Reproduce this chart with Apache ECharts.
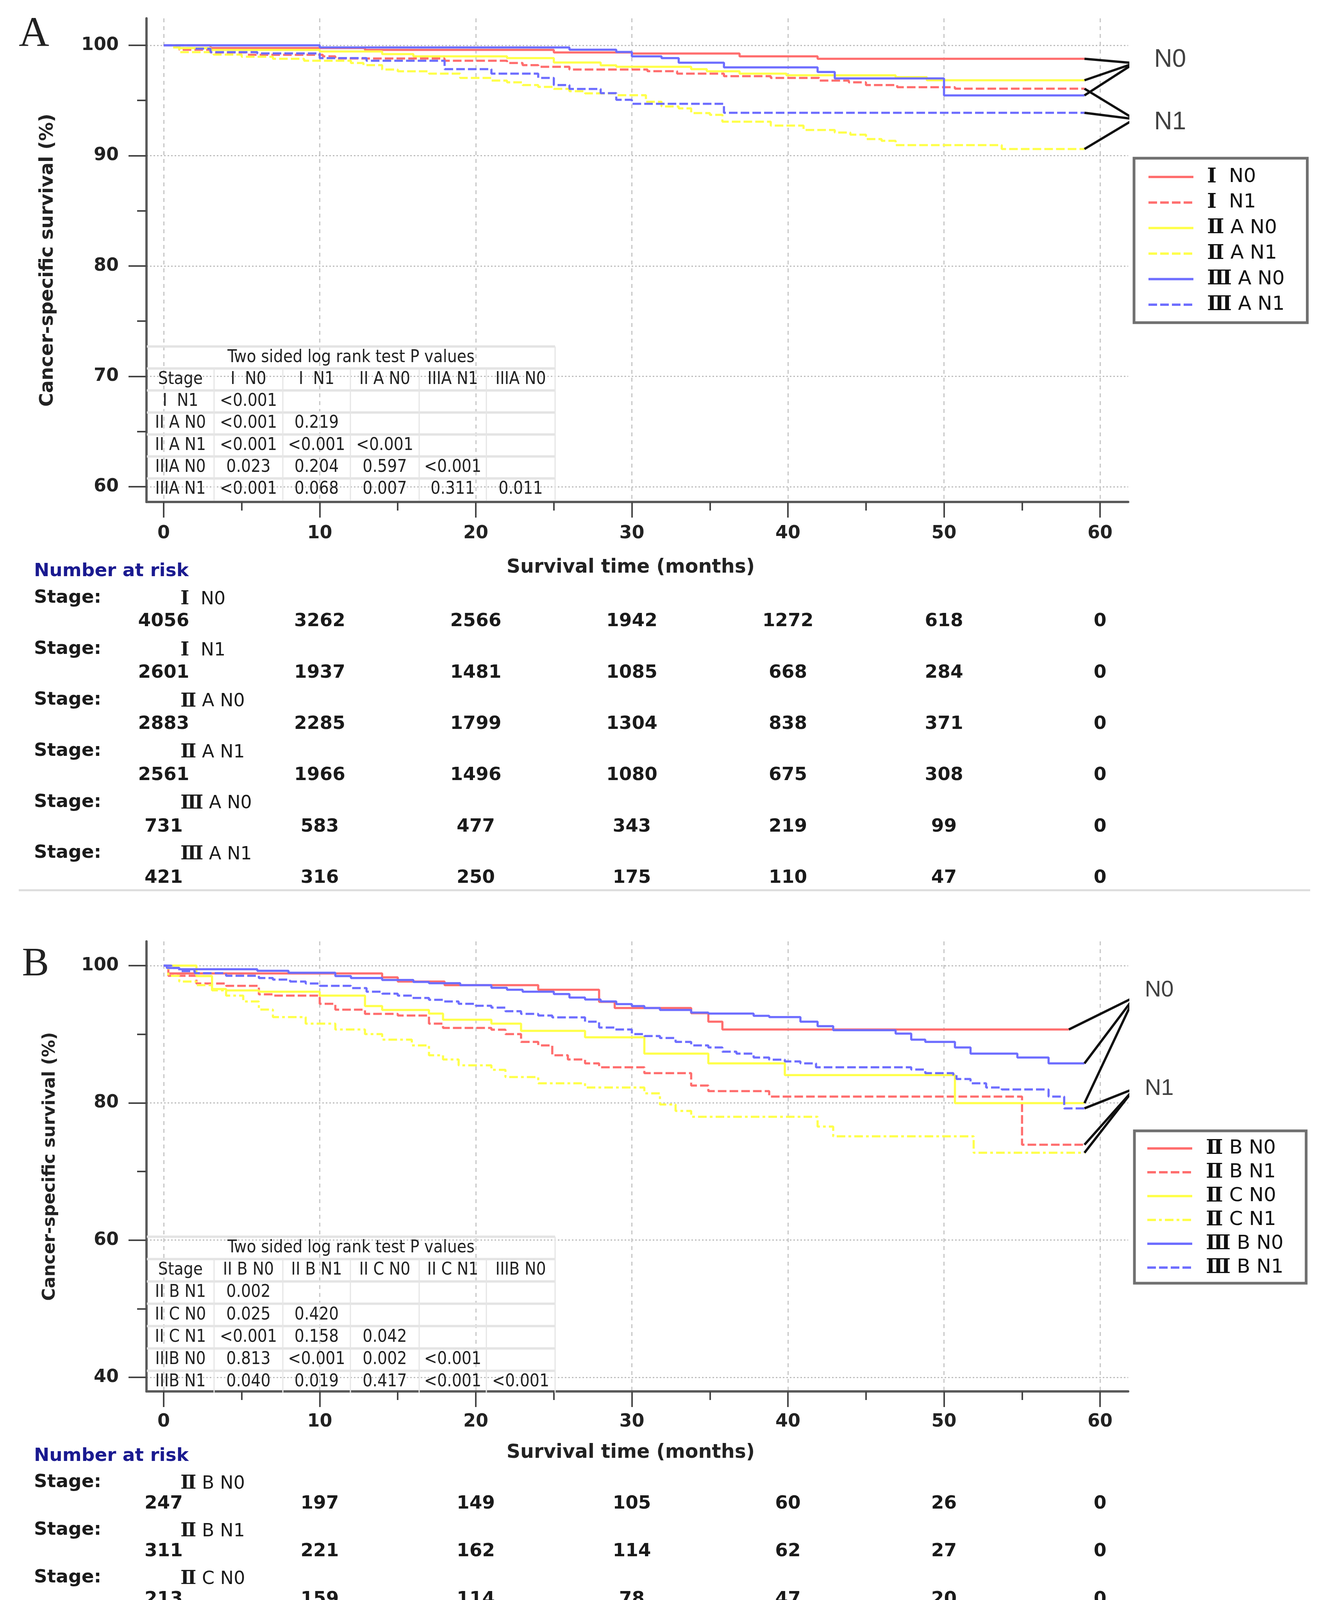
<!DOCTYPE html>
<html><head><meta charset="utf-8">
<script src="https://cdn.jsdelivr.net/npm/echarts/dist/echarts.min.js"></script>
<style>html,body{margin:0;padding:0;background:#fff;}#c{width:3397px;height:4533px;}</style>
</head><body><div id="c"></div>
<script>
// ---------- tick values ----------
const MONTH_TICKS = [0, 10, 20, 30, 40, 50, 60];
const MONTH_MINOR = [5, 15, 25, 35, 45, 55];
const A_Y_TICKS = [60, 70, 80, 90, 100];
const A_Y_MINOR = [65, 75, 85, 95];
const B_Y_TICKS = [40, 60, 80, 100];
const B_Y_MINOR = [50, 70, 90];

// ---------- Panel A curves [month, survival %] ----------
const A_NAMES = ['Ⅰ  N0', 'Ⅰ  N1', 'Ⅱ A N0', 'Ⅱ A N1', 'Ⅲ A N0', 'Ⅲ A N1'];
const A_I_N0 = [[0,100],[3,99.75],[12.9,99.58],[25,99.35],[30,99.25],[36.9,99.0],[41.9,98.78],[59,98.78]];
const A_I_N1 = [[0,100],[1,99.6],[3,99.35],[5.3,99.14],[10.2,99.0],[11,98.8],[18,98.6],[22,98.4],[23,98.2],[24,98.05],[26,97.8],[31,97.65],[32.9,97.43],[35.9,97.2],[38.9,97.04],[42,96.8],[43.9,96.64],[45,96.4],[47,96.2],[50.7,96.07],[59,96.07]];
const A_IIA_N0 = [[0,100],[1,99.75],[3,99.58],[10,99.44],[14,99.2],[16,99.0],[22,98.84],[25,98.44],[28,98.18],[29,98.05],[33.8,97.84],[34.8,97.64],[36.9,97.43],[39.9,97.28],[46.9,97.1],[48.9,96.83],[59,96.83]];
const A_IIA_N1 = [[0,100],[0.5,99.8],[1,99.38],[3.2,99.16],[5,98.96],[7,98.78],[9,98.6],[12,98.4],[12.8,98.2],[14,97.8],[15,97.64],[17,97.43],[19,97.04],[21,96.8],[22,96.64],[23,96.4],[24,96.23],[25,96.05],[26,95.84],[27,95.64],[29,95.48],[30.9,94.88],[31.9,94.46],[33,94.28],[33.8,93.86],[35,93.7],[35.8,93.08],[38.9,92.72],[41,92.33],[43,92.1],[44,91.9],[45,91.5],[46,91.34],[46.9,90.95],[53.7,90.6],[59,90.6]];
const A_IIIA_N0 = [[0,100],[10,99.8],[26,99.6],[29,99.4],[30,99.0],[31.9,98.84],[33,98.42],[35.9,98.0],[41.9,97.58],[43,97.0],[50,95.46],[59,95.46]];
const A_IIIA_N1 = [[0,100],[2,99.7],[3,99.38],[6,99.26],[10,98.84],[13,98.6],[18,97.84],[21,97.43],[24,97.04],[25,96.4],[26,96.04],[28,95.66],[29,95.06],[30,94.7],[35.9,93.88],[59,93.88]];
const A_APEX_N0 = 98.38, A_APEX_N1 = 93.31;

// ---------- Panel B curves ----------
const B_NAMES = ['Ⅱ B N0', 'Ⅱ B N1', 'Ⅱ C N0', 'Ⅱ C N1', 'Ⅲ B N0', 'Ⅲ B N1'];
const B_IIB_N0 = [[0,100],[0.3,98.86],[14,98.29],[15,97.68],[18,97.15],[24,96.49],[27.9,94.72],[28.9,93.83],[33.8,93.07],[34.9,91.83],[35.8,90.69],[58,90.69]];
const B_IIB_N1 = [[0,100],[0.3,98.52],[2.1,97.4],[4,97.06],[6.1,95.82],[7,95.63],[10,94.43],[11,93.58],[12.9,92.97],[15,92.73],[17,91.55],[17.9,90.92],[21,90.66],[21.9,90.03],[22.9,88.89],[24,88.38],[24.9,86.93],[25.9,86.32],[27,85.75],[27.9,85.19],[30.8,84.33],[33.8,82.53],[34.9,81.71],[38.8,80.91],[55,73.9],[59,73.9]];
const B_IIC_N0 = [[0,100],[2.1,98.48],[3.1,96.58],[4,96.39],[6.1,96.2],[10,95.63],[12.9,94.11],[14,93.54],[17,93.01],[17.9,92.12],[21,91.55],[22.9,90.5],[27,89.55],[30.8,87.18],[34.9,85.75],[39.8,84.05],[50.7,79.96],[59,79.96]];
const B_IIC_N1 = [[0,100],[0.3,98.5],[1,97.68],[2.1,97.15],[3.1,96.4],[4,95.63],[5.1,94.78],[6.1,93.6],[7,92.5],[9.1,91.55],[11,90.69],[12.9,90.03],[14,89.21],[15.9,88.38],[17,86.93],[17.9,86.32],[18.9,85.47],[21,84.81],[21.9,83.76],[24,82.85],[27,82.24],[30.8,81.39],[31.8,79.77],[32.8,78.82],[33.8,77.97],[41.9,76.54],[42.9,75.12],[51.9,72.73],[59,72.73]];
const B_IIIB_N0 = [[0,100],[0.2,99.66],[1,99.47],[6,99.24],[8,98.96],[11,98.48],[12,98.2],[14,97.91],[16,97.63],[17,97.44],[19,97.15],[21,96.77],[22,96.49],[23,96.2],[25,95.86],[26,95.35],[27,95.06],[28,94.78],[29,94.4],[30,94.11],[30.8,93.83],[31.8,93.54],[33.8,93.16],[34.9,93.01],[37.8,92.69],[38.8,92.5],[40.8,91.83],[41.9,91.17],[42.9,90.6],[46.9,90.09],[47.9,89.21],[48.8,88.89],[50.7,88.07],[51.7,87.18],[54.7,86.61],[56.7,85.75],[59,85.75]];
const B_IIIB_N1 = [[0,100],[0.5,99.66],[1,99.2],[2,98.9],[4,98.52],[6.1,98.2],[7,97.97],[8.1,97.68],[9.1,97.4],[10,97.06],[12,96.73],[13,96.2],[14,95.92],[15,95.63],[15.9,95.29],[17,95.02],[17.9,94.78],[18.9,94.43],[20,94.15],[21,93.88],[21.9,93.35],[22.9,92.97],[24,92.73],[24.9,92.46],[27,91.83],[27.9,90.98],[28.9,90.69],[30,90.03],[30.8,89.74],[31.8,89.46],[32.8,88.89],[33.8,88.38],[34.9,88.07],[35.8,87.46],[36.7,87.18],[37.8,86.61],[38.8,86.29],[39.8,86.04],[40.8,85.75],[41.8,85.19],[47.9,84.86],[48.8,84.33],[50.6,84.05],[50.8,83.48],[51.7,82.85],[52.7,82.24],[53.7,81.96],[56.7,80.91],[57.7,79.2],[59,79.2]];
const B_APEX_N0 = 95.4, B_APEX_N1 = 82.07;
const APEX_MONTH = 62.2;

// ---------- P value tables ----------
const P_TITLE = 'Two sided log rank test P values';
const A_P_HEADER = ['Stage', 'I  N0', 'I  N1', 'II A N0', 'IIIA N1', 'IIIA N0'];
const A_P_ROWS = [
  ['I  N1', '<0.001'],
  ['II A N0', '<0.001', '0.219'],
  ['II A N1', '<0.001', '<0.001', '<0.001'],
  ['IIIA N0', '0.023', '0.204', '0.597', '<0.001'],
  ['IIIA N1', '<0.001', '0.068', '0.007', '0.311', '0.011']
];
const B_P_HEADER = ['Stage', 'II B N0', 'II B N1', 'II C N0', 'II C N1', 'IIIB N0'];
const B_P_ROWS = [
  ['II B N1', '0.002'],
  ['II C N0', '0.025', '0.420'],
  ['II C N1', '<0.001', '0.158', '0.042'],
  ['IIIB N0', '0.813', '<0.001', '0.002', '<0.001'],
  ['IIIB N1', '0.040', '0.019', '0.417', '<0.001', '<0.001']
];

// ---------- Number at risk ----------
const RISK_MONTHS = [0, 10, 20, 30, 40, 50, 60];
const A_RISK = [
  [4056, 3262, 2566, 1942, 1272, 618, 0],
  [2601, 1937, 1481, 1085, 668, 284, 0],
  [2883, 2285, 1799, 1304, 838, 371, 0],
  [2561, 1966, 1496, 1080, 675, 308, 0],
  [731, 583, 477, 343, 219, 99, 0],
  [421, 316, 250, 175, 110, 47, 0]
];
const B_RISK = [
  [247, 197, 149, 105, 60, 26, 0],
  [311, 221, 162, 114, 62, 27, 0],
  [213, 159, 114, 78, 47, 20, 0],
  [303, 211, 148, 94, 61, 35, 0],
  [2793, 2223, 1697, 1221, 783, 326, 0],
  [2355, 1767, 1294, 877, 559, 237, 0]
];

// ---------- styles / layout ----------
const RED = '#FF6E6E', YEL = '#FFFF4A', BLU = '#6E6EFF';
const DASH = [22, 8], DASHDOT = [22, 8, 7, 8];
const X_MIN = -1.1, X_MAX = 61.8;
const FRAME_L = 375, FRAME_W = 2513;
const BOLD = '"DejaVu Sans"';
const NARROW = '"Liberation Sans Narrow","DejaVu Sans Condensed","Roboto",sans-serif';
const ROMAN = '"DejaVu Serif","Liberation Serif",serif';
const LATIN = '"DejaVu Sans",sans-serif';

// split a stage name into its Roman numeral and the rest, for rich text
function richStage(name) {
  const m = name.match(/^([ⅠⅡⅢ])(.*)$/);
  return m ? '{r|' + m[1] + '}{t|' + m[2] + '}' : '{t|' + name + '}';
}
function stageRich(size) {
  return {
    r: { fontFamily: ROMAN, fontWeight: 'bold', fontSize: size + 2, lineHeight: 56, color: '#111' },
    t: { fontFamily: LATIN, fontSize: size, lineHeight: 56, color: '#111' }
  };
}

function mainX(grid, nameGap, margin) {
  return {
    gridIndex: grid, type: 'value', min: X_MIN, max: X_MAX, position: 'bottom',
    axisLine: { show: true, onZero: false, lineStyle: { color: '#5a5a5a', width: 6 } },
    axisTick: { show: true, customValues: MONTH_TICKS, length: 40, lineStyle: { color: '#444', width: 4 } },
    axisLabel: { show: true, customValues: MONTH_TICKS, margin: margin, fontFamily: BOLD, fontWeight: 'bold', fontSize: 46, color: '#222' },
    splitLine: { show: true, lineStyle: { color: '#c6c6c6', width: 3, type: [10, 10] } },
    name: 'Survival time (months)', nameLocation: 'middle', nameGap: nameGap,
    nameTextStyle: { fontFamily: BOLD, fontWeight: 'bold', fontSize: 49, color: '#222', padding: [0, 34, 0, 0] }
  };
}
function minorX(grid) {
  return {
    gridIndex: grid, type: 'value', min: X_MIN, max: X_MAX, position: 'bottom',
    axisLine: { show: false, onZero: false },
    axisTick: { show: true, customValues: MONTH_MINOR, length: 22, lineStyle: { color: '#444', width: 4 } },
    axisLabel: { show: false }, splitLine: { show: false }
  };
}
function mainY(grid, mn, mx, ticks, nameGap, nameSize) {
  return {
    gridIndex: grid, type: 'value', min: mn, max: mx, position: 'left',
    axisLine: { show: true, onZero: false, lineStyle: { color: '#5a5a5a', width: 6 } },
    axisTick: { show: true, customValues: ticks, length: 46, lineStyle: { color: '#444', width: 4 } },
    axisLabel: { show: true, customValues: ticks, margin: 71, fontFamily: BOLD, fontWeight: 'bold', fontSize: 46, color: '#222' },
    splitLine: { show: true, lineStyle: { color: '#bdbdbd', width: 3, type: [4, 5] } },
    name: 'Cancer-specific survival (%)', nameLocation: 'middle', nameGap: nameGap,
    nameTextStyle: { fontFamily: BOLD, fontWeight: 'bold', fontSize: nameSize, color: '#222' }
  };
}
function minorY(grid, mn, mx, ticks) {
  return {
    gridIndex: grid, type: 'value', min: mn, max: mx, position: 'left',
    axisLine: { show: false, onZero: false },
    axisTick: { show: true, customValues: ticks, length: 24, lineStyle: { color: '#444', width: 4 } },
    axisLabel: { show: false }, splitLine: { show: false }
  };
}
function curve(name, data, color, type, axis) {
  return {
    type: 'line', name: name, data: data, step: 'end', xAxisIndex: axis, yAxisIndex: axis,
    symbol: 'none', color: color, lineStyle: { color: color, width: 5.5, type: type },
    itemStyle: { color: color }, animation: false, silent: true, z: 3
  };
}
// polyline: end1 -> apex -> end2 -> apex -> end3 -> apex
function bracket(members, apex, axis) {
  const out = [];
  members.forEach(d => {
    const last = d[d.length - 1];
    out.push([last[0], last[1]]);
    out.push([APEX_MONTH, apex]);
  });
  return {
    type: 'line', data: out, xAxisIndex: axis, yAxisIndex: axis, symbol: 'none', clip: false,
    lineStyle: { color: '#111', width: 6 }, itemStyle: { color: '#111' }, silent: true, animation: false, z: 4
  };
}
function apexLabels(items, axis, size, dist) {
  return {
    type: 'scatter', xAxisIndex: axis, yAxisIndex: axis, clip: false, symbolSize: 1, silent: true, animation: false,
    itemStyle: { color: 'rgba(0,0,0,0)' },
    data: items.map(it => ({ value: [APEX_MONTH, it.v, it.t], label: { offset: [0, it.off] } })),
    label: { show: true, position: 'right', distance: dist, formatter: p => p.value[2],
             fontFamily: '"Liberation Sans",Arial,sans-serif', fontSize: size, color: '#111' }
  };
}
function legendBox(names, left, top, pad, gap) {
  return {
    data: names, orient: 'vertical', left: left, top: top, padding: pad, itemGap: gap,
    itemWidth: 115, itemHeight: 6, selectedMode: false,
    borderColor: '#707070', borderWidth: 7, backgroundColor: '#fff',
    itemStyle: { opacity: 0 }, lineStyle: { width: 6 },
    formatter: richStage,
    textStyle: { fontFamily: LATIN, fontSize: 50, lineHeight: 56, color: '#111', padding: [0, 0, 0, 30], rich: stageRich(50) }
  };
}

const A_Y_MIN = 58.62, A_Y_MAX = 102.44, B_Y_MIN = 37.95, B_Y_MAX = 103.53;

const option = {
  backgroundColor: '#fff',
  animation: false,
  grid: [
    { left: FRAME_L, top: 47, width: FRAME_W, height: 1238 },
    { left: FRAME_L, top: 2410, width: FRAME_W, height: 1152 }
  ],
  xAxis: [mainX(0, 144, 58), minorX(0), mainX(1, 133, 55), minorX(1)],
  yAxis: [
    mainY(0, A_Y_MIN, A_Y_MAX, A_Y_TICKS, 228, 48), minorY(0, A_Y_MIN, A_Y_MAX, A_Y_MINOR),
    mainY(1, B_Y_MIN, B_Y_MAX, B_Y_TICKS, 224, 44), minorY(1, B_Y_MIN, B_Y_MAX, B_Y_MINOR)
  ],
  legend: [
    legendBox(A_NAMES, 2903, 405, [20, 58, 18, 34], 9.4),
    legendBox(B_NAMES, 2904, 2895, [17, 58, 12, 30], 5)
  ],
  series: [
    curve(A_NAMES[0], A_I_N0, RED, 'solid', 0),
    curve(A_NAMES[1], A_I_N1, RED, DASH, 0),
    curve(A_NAMES[2], A_IIA_N0, YEL, 'solid', 0),
    curve(A_NAMES[3], A_IIA_N1, YEL, DASH, 0),
    curve(A_NAMES[4], A_IIIA_N0, BLU, 'solid', 0),
    curve(A_NAMES[5], A_IIIA_N1, BLU, DASH, 0),
    bracket([A_I_N0, A_IIA_N0, A_IIIA_N0], A_APEX_N0, 0),
    bracket([A_I_N1, A_IIA_N1, A_IIIA_N1], A_APEX_N1, 0),
    apexLabels([{ v: A_APEX_N0, t: 'N0', off: -8 }, { v: A_APEX_N1, t: 'N1', off: 8 }], 0, 64, 50),
    curve(B_NAMES[0], B_IIB_N0, RED, 'solid', 2),
    curve(B_NAMES[1], B_IIB_N1, RED, DASH, 2),
    curve(B_NAMES[2], B_IIC_N0, YEL, 'solid', 2),
    curve(B_NAMES[3], B_IIC_N1, YEL, DASHDOT, 2),
    curve(B_NAMES[4], B_IIIB_N0, BLU, 'solid', 2),
    curve(B_NAMES[5], B_IIIB_N1, BLU, DASH, 2),
    bracket([B_IIB_N0, B_IIIB_N0, B_IIC_N0], B_APEX_N0, 2),
    bracket([B_IIIB_N1, B_IIB_N1, B_IIC_N1], B_APEX_N1, 2),
    apexLabels([{ v: B_APEX_N0, t: 'N0', off: -18 }, { v: B_APEX_N1, t: 'N1', off: 0 }], 2, 58, 26)
  ]
};

const chart = echarts.init(document.getElementById('c'), null, { renderer: 'canvas', width: 3397, height: 4533 });
chart.setOption(option);

// ---------- graphic annotations ----------
function txt(text, x, y, font, fill, align, rich) {
  const style = { text: text, font: font, fill: fill || '#222', align: align || 'left', verticalAlign: 'middle',
                  textAlign: align || 'left', textVerticalAlign: 'middle' };
  if (rich) style.rich = rich;
  return { type: 'text', x: x, y: y, silent: true, z: 50, style: style };
}
function hline(x1, x2, y, color, w) {
  return { type: 'line', silent: true, z: 40, shape: { x1: x1, y1: y, x2: x2, y2: y }, style: { stroke: color, lineWidth: w } };
}
function vline(x, y1, y2, color, w) {
  return { type: 'line', silent: true, z: 40, shape: { x1: x, y1: y1, x2: x, y2: y2 }, style: { stroke: color, lineWidth: w } };
}
const TBL_X = [376, 548, 724, 897, 1073, 1245, 1421];
function pTable(top, rowH, header, rows) {
  const els = [];
  const bottom = top + rowH * 7;
  const font = '44px ' + NARROW;
  for (let r = 0; r < 7; r++) els.push(hline(TBL_X[0], TBL_X[6], top + r * rowH, '#e4e4e4', 6));
  for (let c = 1; c < TBL_X.length - 1; c++) els.push(vline(TBL_X[c], top + rowH, bottom, '#e6e6e6', 3));
  els.push(vline(TBL_X[6], top, bottom, '#e6e6e6', 3));
  els.push(txt(P_TITLE, (TBL_X[0] + TBL_X[6]) / 2, top + rowH / 2, font, '#222', 'center'));
  header.forEach((h, c) => els.push(txt(h, (TBL_X[c] + TBL_X[c + 1]) / 2, top + rowH * 1.5, font, '#222', 'center')));
  rows.forEach((row, r) => row.forEach((v, c) =>
    els.push(txt(v, (TBL_X[c] + TBL_X[c + 1]) / 2, top + rowH * (r + 2.5), font, '#222', 'center'))));
  return els;
}
function riskTable(axisIndex, headY, stageY0, stageStep, numY0, numStep, names, rows) {
  const els = [];
  const bfont = 'bold 47px ' + BOLD;
  els.push(txt('Number at risk', 87, headY, bfont, '#1a1a90', 'left'));
  names.forEach((n, i) => {
    els.push(txt('Stage:', 87, stageY0 + i * stageStep, bfont, '#1a1a1a', 'left'));
    els.push(txt(richStage(n), 462, stageY0 + i * stageStep + 4, '47px ' + LATIN, '#1a1a1a', 'left', stageRich(46)));
    rows[i].forEach((v, j) => {
      const px = chart.convertToPixel({ xAxisIndex: axisIndex }, RISK_MONTHS[j]);
      els.push(txt(String(v), px, numY0 + i * numStep, bfont, '#1a1a1a', 'center'));
    });
  });
  return els;
}

let elements = [];
elements.push(txt('A', 87, 90, '108px "Liberation Serif","DejaVu Serif",serif', '#222', 'center'));
elements.push(txt('B', 91, 2470, '104px "Liberation Serif","DejaVu Serif",serif', '#222', 'center'));
elements = elements.concat(pTable(887, 56.3, A_P_HEADER, A_P_ROWS));
elements = elements.concat(pTable(3166, 57.2, B_P_HEADER, B_P_ROWS));
elements = elements.concat(riskTable(0, 1463, 1531, 130.6, 1591, 131.4, A_NAMES, A_RISK));
elements = elements.concat(riskTable(2, 3728, 3795, 121.8, 3850, 122.2, B_NAMES, B_RISK));
elements.push(hline(48, 3354, 2279, '#dcdcdc', 5));
elements.push(hline(48, 3354, 4503, '#dcdcdc', 5));

chart.setOption({ graphic: { elements: elements } });
</script></body></html>
